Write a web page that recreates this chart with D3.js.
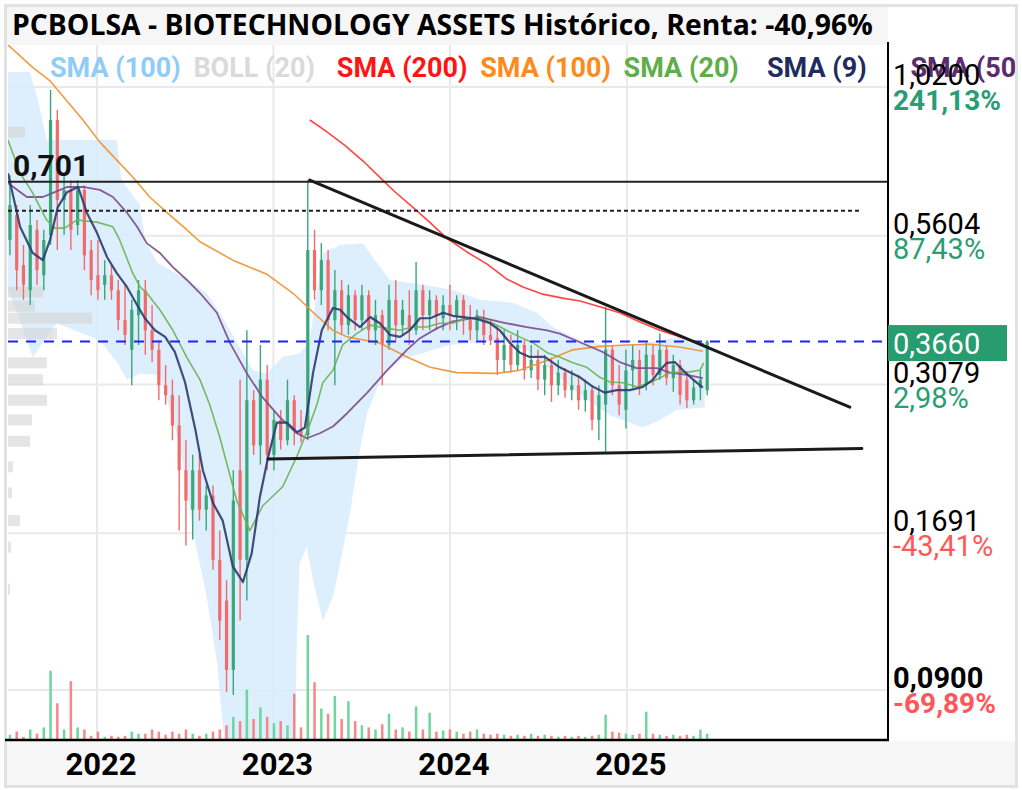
<!DOCTYPE html>
<html><head><meta charset="utf-8">
<script src="https://cdn.jsdelivr.net/npm/d3@7"></script>
<style>body{margin:0;background:#fff}svg{display:block}</style>
</head><body><svg id="chart" width="1022" height="790"></svg>
<script>
// ---------------- DATA ----------------
const titleText = "PCBOLSA - BIOTECHNOLOGY ASSETS Histórico, Renta: -40,96%";
const candleStart = "2021-07-05";
const candleStepDays = 14;
const open = [0.551,0.609,0.498,0.450,0.574,0.478,0.562,0.893,0.647,0.674,
0.585,0.674,0.529,0.478,0.460,0.478,0.450,0.399,0.354,0.407,
0.450,0.383,0.354,0.307,0.295,0.261,0.218,0.186,0.218,0.186,
0.197,0.152,0.129,0.0976,0.218,0.152,0.289,0.241,0.314,0.232,
0.267,0.246,0.289,0.256,0.251,0.529,0.450,0.508,0.399,0.450,
0.391,0.441,0.399,0.441,0.383,0.407,0.361,0.433,0.391,0.407,
0.383,0.450,0.407,0.433,0.402,0.424,0.407,0.433,0.399,0.383,
0.402,0.376,0.371,0.340,0.361,0.333,0.361,0.326,0.340,0.314,
0.333,0.307,0.323,0.301,0.307,0.289,0.301,0.267,0.284,0.354,
0.307,0.278,0.326,0.340,0.307,0.347,0.320,0.354,0.316,0.333,
0.314,0.289,0.304,0.301];
const high = [0.715,0.634,0.540,0.634,0.597,0.574,1.008,0.930,0.715,0.701,
0.701,0.687,0.551,0.551,0.508,0.498,0.469,0.460,0.433,0.469,
0.469,0.424,0.368,0.333,0.314,0.295,0.246,0.232,0.232,0.205,
0.205,0.171,0.140,0.218,0.314,0.383,0.301,0.361,0.333,0.278,
0.278,0.314,0.295,0.278,0.701,0.574,0.544,0.529,0.488,0.469,
0.460,0.450,0.460,0.450,0.433,0.416,0.460,0.469,0.433,0.450,
0.504,0.460,0.450,0.441,0.441,0.460,0.441,0.441,0.424,0.416,
0.416,0.399,0.391,0.383,0.376,0.383,0.368,0.361,0.354,0.347,
0.343,0.340,0.329,0.326,0.320,0.314,0.307,0.307,0.421,0.361,
0.333,0.354,0.361,0.354,0.364,0.361,0.378,0.361,0.347,0.340,
0.323,0.314,0.326,0.368];
const low = [0.518,0.450,0.433,0.424,0.460,0.450,0.540,0.529,0.562,0.529,
0.562,0.488,0.441,0.433,0.433,0.433,0.383,0.361,0.307,0.361,
0.347,0.337,0.289,0.284,0.246,0.171,0.161,0.165,0.178,0.171,
0.146,0.110,0.0893,0.0882,0.119,0.129,0.232,0.223,0.218,0.218,
0.237,0.241,0.241,0.244,0.246,0.433,0.424,0.383,0.307,0.376,
0.376,0.383,0.383,0.368,0.361,0.307,0.354,0.368,0.376,0.361,
0.376,0.383,0.383,0.383,0.383,0.383,0.383,0.376,0.368,0.368,
0.361,0.361,0.320,0.323,0.323,0.326,0.314,0.316,0.301,0.295,
0.287,0.295,0.292,0.289,0.278,0.276,0.256,0.246,0.235,0.295,
0.272,0.258,0.304,0.295,0.301,0.307,0.314,0.307,0.299,0.284,
0.280,0.284,0.289,0.295];
const close = [0.634,0.488,0.460,0.585,0.488,0.551,0.893,0.647,0.674,0.574,
0.674,0.518,0.469,0.450,0.478,0.450,0.399,0.376,0.416,0.450,
0.383,0.354,0.307,0.295,0.261,0.218,0.193,0.218,0.186,0.197,
0.152,0.119,0.0976,0.193,0.152,0.289,0.241,0.314,0.232,0.267,
0.246,0.289,0.256,0.251,0.529,0.450,0.508,0.399,0.450,0.391,
0.441,0.399,0.441,0.383,0.407,0.361,0.433,0.391,0.416,0.383,
0.450,0.407,0.433,0.407,0.424,0.407,0.433,0.399,0.383,0.407,
0.376,0.368,0.340,0.361,0.333,0.361,0.326,0.340,0.314,0.333,
0.307,0.323,0.301,0.307,0.289,0.301,0.267,0.295,0.354,0.307,
0.284,0.326,0.340,0.307,0.347,0.320,0.354,0.316,0.333,0.295,
0.289,0.304,0.314,0.366];
const volume = [5,8,3,10,6,12,66,35,10,56,
12,10,4,8,3,4,3,4,8,6,
6,10,8,5,8,6,10,6,4,6,
8,10,14,22,18,48,20,31,22,16,
18,14,44,12,100,55,30,25,42,20,
37,18,14,12,10,15,25,10,12,8,
32,10,26,8,9,10,8,6,8,10,
6,5,6,5,4,5,4,6,4,5,
4,3,4,3,4,3,4,5,24,8,
7,6,5,6,27,6,5,4,5,4,
5,4,10,6];

const sma9 = [["2021-07-01",0.721],["2021-07-26",0.581],["2021-08-21",0.523],["2021-09-11",0.508],["2021-09-26",0.551],["2021-10-12",0.629],["2021-10-31",0.668],["2021-11-23",0.682],["2021-12-11",0.615],["2022-01-01",0.567],["2022-01-22",0.514],["2022-02-11",0.482],["2022-03-04",0.456],["2022-03-25",0.424],["2022-04-10",0.402],["2022-05-01",0.383],["2022-05-22",0.373],["2022-06-11",0.351],["2022-07-02",0.311],["2022-07-23",0.258],["2022-08-08",0.218],["2022-08-29",0.191],["2022-09-18",0.178],["2022-10-09",0.148],["2022-10-30",0.139],["2022-11-17",0.156],["2022-12-04",0.196],["2022-12-21",0.230],["2023-01-08",0.264],["2023-01-29",0.264],["2023-02-19",0.254],["2023-03-07",0.259],["2023-03-24",0.323],["2023-04-11",0.383],["2023-05-04",0.419],["2023-05-19",0.416],["2023-06-02",0.404],["2023-06-29",0.388],["2023-07-20",0.404],["2023-08-09",0.394],["2023-08-30",0.376],["2023-09-20",0.373],["2023-10-10",0.383],["2023-10-31",0.402],["2023-11-21",0.402],["2023-12-18",0.411],["2024-01-07",0.406],["2024-01-28",0.404],["2024-02-26",0.401],["2024-03-24",0.394],["2024-04-13",0.383],["2024-05-04",0.364],["2024-05-25",0.350],["2024-06-14",0.344],["2024-07-15",0.344],["2024-08-15",0.330],["2024-09-26",0.317],["2024-10-23",0.305],["2024-11-16",0.298],["2024-12-11",0.301],["2025-01-07",0.301],["2025-02-03",0.305],["2025-02-24",0.314],["2025-03-10",0.326],["2025-03-25",0.336],["2025-04-10",0.337],["2025-04-27",0.326],["2025-05-18",0.314],["2025-06-07",0.304]];
const sma20 = [["2021-07-01",0.824],["2021-07-26",0.721],["2021-08-21",0.666],["2021-09-19",0.597],["2021-10-06",0.578],["2021-10-26",0.578],["2021-11-20",0.597],["2022-01-01",0.592],["2022-02-03",0.581],["2022-02-17",0.551],["2022-03-16",0.482],["2022-03-31",0.456],["2022-04-14",0.445],["2022-05-11",0.416],["2022-06-07",0.383],["2022-07-06",0.343],["2022-08-02",0.314],["2022-08-22",0.284],["2022-09-12",0.249],["2022-10-17",0.193],["2022-11-13",0.171],["2022-12-10",0.189],["2023-01-20",0.204],["2023-02-18",0.230],["2023-03-17",0.262],["2023-04-01",0.284],["2023-04-13",0.310],["2023-05-04",0.326],["2023-05-24",0.361],["2023-06-22",0.378],["2023-07-20",0.391],["2023-08-24",0.386],["2023-09-20",0.383],["2023-10-16",0.388],["2023-11-14",0.388],["2023-12-11",0.394],["2024-01-07",0.394],["2024-02-05",0.402],["2024-03-03",0.402],["2024-03-30",0.394],["2024-04-27",0.383],["2024-05-24",0.373],["2024-06-21",0.364],["2024-07-20",0.350],["2024-08-15",0.344],["2024-09-11",0.336],["2024-10-10",0.330],["2024-11-06",0.317],["2024-11-27",0.311],["2024-12-24",0.310],["2025-01-21",0.305],["2025-02-17",0.310],["2025-03-10",0.316],["2025-03-31",0.323],["2025-05-11",0.324],["2025-06-01",0.326],["2025-06-09",0.336]];
const sma50 = [["2021-07-01",0.693],["2021-08-09",0.655],["2021-09-11",0.655],["2021-10-02",0.666],["2021-10-31",0.682],["2021-12-03",0.682],["2022-01-07",0.674],["2022-02-03",0.655],["2022-03-04",0.615],["2022-03-25",0.581],["2022-04-14",0.544],["2022-05-11",0.523],["2022-06-07",0.494],["2022-07-06",0.469],["2022-08-02",0.445],["2022-09-06",0.411],["2022-10-03",0.364],["2022-11-07",0.322],["2022-12-10",0.292],["2023-01-14",0.270],["2023-02-18",0.253],["2023-03-11",0.248],["2023-04-07",0.253],["2023-05-04",0.260],["2023-06-02",0.274],["2023-07-14",0.298],["2023-08-24",0.326],["2023-10-04",0.354],["2023-10-31",0.371],["2023-12-05",0.386],["2024-01-07",0.397],["2024-03-03",0.404],["2024-04-27",0.394],["2024-06-08",0.388],["2024-07-20",0.383],["2024-08-15",0.378],["2024-09-26",0.365],["2024-11-12",0.351],["2024-12-17",0.337],["2025-01-21",0.329],["2025-03-04",0.329],["2025-03-31",0.323],["2025-05-05",0.320],["2025-06-07",0.316]];
const sma100 = [["2021-07-01",1.208],["2021-08-21",1.104],["2021-09-26",1.045],["2021-10-31",0.964],["2021-12-03",0.893],["2022-01-07",0.817],["2022-02-11",0.760],["2022-03-16",0.710],["2022-04-20",0.655],["2022-05-26",0.615],["2022-07-06",0.574],["2022-08-02",0.547],["2022-10-09",0.508],["2022-12-18",0.480],["2023-02-10",0.445],["2023-03-25",0.411],["2023-05-04",0.383],["2023-06-02",0.373],["2023-08-09",0.364],["2023-10-04",0.344],["2023-11-21",0.330],["2024-01-15",0.323],["2024-04-07",0.322],["2024-05-24",0.326],["2024-07-20",0.339],["2024-09-11",0.354],["2024-11-06",0.359],["2025-01-01",0.361],["2025-02-17",0.362],["2025-04-20",0.358],["2025-06-07",0.352]];
const sma200 = [["2023-03-17",0.893],["2023-04-16",0.858],["2023-05-28",0.807],["2023-07-09",0.752],["2023-08-15",0.701],["2023-09-09",0.669],["2023-10-16",0.629],["2023-11-20",0.592],["2023-12-25",0.555],["2024-02-05",0.525],["2024-03-18",0.500],["2024-04-27",0.471],["2024-05-31",0.456],["2024-07-11",0.443],["2024-08-21",0.436],["2024-09-26",0.431],["2024-11-06",0.421],["2024-12-17",0.411],["2025-01-28",0.396],["2025-03-10",0.383],["2025-04-20",0.373],["2025-06-09",0.362]];
const bollUpper = [["2021-07-01",1.083],["2021-08-15",1.083],["2021-09-01",0.968],["2021-09-19",0.824],["2021-10-10",0.824],["2022-02-11",0.824],["2022-02-21",0.701],["2022-03-31",0.634],["2022-04-10",0.551],["2022-05-05",0.504],["2022-07-06",0.469],["2022-08-16",0.445],["2022-09-12",0.411],["2022-10-23",0.358],["2022-11-19",0.326],["2022-12-18",0.322],["2023-01-20",0.344],["2023-02-24",0.349],["2023-03-17",0.368],["2023-04-13",0.523],["2023-05-19",0.540],["2023-07-05",0.544],["2023-08-03",0.502],["2023-08-30",0.469],["2023-10-16",0.463],["2023-12-05",0.456],["2024-01-07",0.450],["2024-03-03",0.433],["2024-05-10",0.428],["2024-06-29",0.411],["2024-08-01",0.388],["2024-09-26",0.368],["2024-12-03",0.358],["2025-02-11",0.364],["2025-04-20",0.373],["2025-06-11",0.364]];
const bollLower = [["2021-07-01",0.450],["2021-07-26",0.399],["2021-08-21",0.344],["2021-09-15",0.368],["2021-10-10",0.394],["2022-01-07",0.368],["2022-02-11",0.337],["2022-03-04",0.314],["2022-03-31",0.322],["2022-05-11",0.320],["2022-06-22",0.240],["2022-07-18",0.171],["2022-08-16",0.131],["2022-09-06",0.101],["2022-09-18",0.0783],["2022-09-28",0.067],["2023-02-14",0.067],["2023-02-18",0.107],["2023-02-24",0.150],["2023-03-11",0.160],["2023-03-24",0.140],["2023-04-13",0.119],["2023-05-04",0.131],["2023-05-19",0.150],["2023-06-08",0.183],["2023-06-29",0.237],["2023-07-14",0.275],["2023-08-15",0.320],["2023-09-20",0.340],["2024-01-01",0.361],["2024-04-13",0.368],["2024-06-14",0.351],["2024-08-15",0.316],["2024-10-17",0.287],["2024-11-27",0.272],["2025-02-03",0.259],["2025-03-10",0.267],["2025-04-14",0.278],["2025-06-11",0.281]];

const profileLevels = [0.851,0.447,0.422,0.402,0.378,0.336,0.314,0.289,0.267,0.245,0.221,0.199,0.178,0.160,0.135];
const profileVolumes = [18,36,28,85,50,40,36,40,25,23,6,5,13,4,3];

const resistanceLine = [["2023-03-17",0.701],["2026-04-07",0.281]];
const supportLine = [["2022-12-21",0.228],["2026-05-02",0.238]];
const maxLevel = 0.701, maxLevelLabel = "0,701";
const dottedLevel = 0.62;
const lastPrice = 0.366, lastPriceLabel = "0,3660";

const axisValues = [1.02,0.5604,0.3079,0.1691,0.09];
const axisLabels = ["1,0200","0,5604","0,3079","0,1691","0,0900"];
const axisPercents = ["241,13%","87,43%","2,98%","-43,41%","-69,89%"];
const yearTicks = ["2022","2023","2024","2025"];

const legendNames = ["SMA (100)","BOLL (20)","SMA (200)","SMA (100)","SMA (20)","SMA (9)","SMA (50)"];
const legendColors = ["#8fcdf7","#dadada","#ff1414","#ff8a1c","#5fae49","#1e2c5e","#5c2b70"];

// ---------------- CHART ----------------
const W = 1022, H = 790;
const P = {left: 8, right: 888, top: 45, bottom: 740};
const parse = d3.timeParse("%Y-%m-%d");
const svg = d3.select("#chart");

const x = d3.scaleTime().domain([parse("2021-07-01"), parse("2026-06-25")]).range([P.left, P.right]);
const y = d3.scaleLog().domain([0.09, 1.02]).range([690, 87]);
const volH = d3.scaleLinear().domain([0, 100]).range([0, 105]);
const profW = d3.scaleLinear().domain([0, 100]).range([0, 100]);

const candleDates = open.map((_, i) => d3.timeDay.offset(parse(candleStart), i * candleStepDays));
const candles = open.map((o, i) => ({date: candleDates[i], o, h: high[i], l: low[i], c: close[i], v: volume[i]}));

const defs = svg.append("defs");
defs.append("clipPath").attr("id","plotclip").append("rect")
  .attr("x",P.left).attr("y",P.top).attr("width",P.right-P.left).attr("height",P.bottom-P.top);
defs.append("clipPath").attr("id","frameclip").append("rect")
  .attr("x",7).attr("y",7).attr("width",1008).attr("height",778);

svg.append("rect").attr("width",W).attr("height",H).attr("fill","#fff");
svg.append("rect").attr("x",7).attr("y",741).attr("width",1008).attr("height",44).attr("fill","#f7f7f7");
svg.append("rect").attr("x",7).attr("y",7).attr("width",881).attr("height",38).attr("fill","#f6f6f6");
svg.append("rect").attr("x",5.5).attr("y",5.5).attr("width",1011).attr("height",781)
  .attr("fill","none").attr("stroke","#e2e2e2").attr("stroke-width",3);

const plot = svg.append("g").attr("clip-path","url(#plotclip)");

// grid
plot.selectAll(".hg").data(axisValues).join("line")
  .attr("x1",P.left).attr("x2",P.right).attr("y1",d=>y(d)).attr("y2",d=>y(d))
  .attr("stroke","#e9e9e9").attr("stroke-width",2);
plot.selectAll(".vg").data(yearTicks).join("line")
  .attr("x1",d=>x(parse(d+"-01-01"))).attr("x2",d=>x(parse(d+"-01-01")))
  .attr("y1",P.top).attr("y2",P.bottom).attr("stroke","#e9e9e9").attr("stroke-width",2);

// bollinger band
const ptLine = d3.line().x(d=>x(parse(d[0]))).y(d=>y(d[1]));
const bandPts = bollUpper.concat(bollLower.slice().reverse());
plot.append("path").attr("d", ptLine(bandPts) + "Z").attr("fill","#d7ebfb").attr("opacity",0.85);

// volume profile
plot.selectAll(".prof").data(profileLevels).join("rect")
  .attr("x",P.left-1).attr("y",d=>y(d)-5.5).attr("height",11)
  .attr("width",(d,i)=>profW(profileVolumes[i]))
  .attr("fill","#d4d4d4").attr("opacity",0.6);

// volume bars
plot.selectAll(".vol").data(candles).join("rect")
  .attr("x",d=>x(d.date)-1.25).attr("width",2.5)
  .attr("y",d=>P.bottom-volH(d.v)).attr("height",d=>volH(d.v))
  .attr("fill",d=>d.c>=d.o?"#5fd394":"#f57b7b").attr("opacity",0.9);

// candles
const cg = plot.append("g");
cg.selectAll(".wick").data(candles).join("line")
  .attr("x1",d=>x(d.date)).attr("x2",d=>x(d.date))
  .attr("y1",d=>y(d.h)).attr("y2",d=>y(d.l))
  .attr("stroke",d=>d.c>=d.o?"#3aa67a":"#f26a6a").attr("stroke-width",1.4);
cg.selectAll(".body").data(candles).join("rect")
  .attr("x",d=>x(d.date)-1.6).attr("width",3.2)
  .attr("y",d=>Math.min(y(d.o),y(d.c)))
  .attr("height",d=>Math.max(1.2,Math.abs(y(d.o)-y(d.c))))
  .attr("fill",d=>d.c>=d.o?"#3aa67a":"#f26a6a");

// moving averages
const lines = [
  {d: sma100, c: "#f0902c", w: 1.6},
  {d: sma200, c: "#ff3030", w: 1.6},
  {d: sma50, c: "#7b4a8c", w: 1.8},
  {d: sma20, c: "#6cb152", w: 1.6},
  {d: sma9, c: "#2d3b6e", w: 2.2}
];
lines.forEach(l => {
  plot.append("path").attr("d", ptLine(l.d)).attr("fill","none")
    .attr("stroke", l.c).attr("stroke-width", l.w).attr("stroke-linejoin","round").attr("opacity",0.9);
});

// horizontal levels
plot.append("line").attr("x1",P.left).attr("x2",P.right).attr("y1",y(maxLevel)+1.5).attr("y2",y(maxLevel)+1.5)
  .attr("stroke","#222").attr("stroke-width",2);
plot.append("line").attr("x1",P.left).attr("x2",860).attr("y1",y(dottedLevel)).attr("y2",y(dottedLevel))
  .attr("stroke","#222").attr("stroke-width",2).attr("stroke-dasharray","4,3");
plot.append("line").attr("x1",P.left).attr("x2",P.right).attr("y1",y(lastPrice)).attr("y2",y(lastPrice))
  .attr("stroke","#1a22ff").attr("stroke-width",2).attr("stroke-dasharray","10,8");

// trend lines
[resistanceLine, supportLine].forEach(t => {
  plot.append("path").attr("d", ptLine(t)).attr("stroke","#1a1a1a").attr("stroke-width",3)
    .attr("fill","none").attr("stroke-linecap","round");
});

// max label
svg.append("text").attr("x",13).attr("y",y(maxLevel)-4).text(maxLevelLabel)
  .attr("font-family","Roboto").attr("font-weight","bold").attr("font-size",30).attr("fill","#111");

// axes lines
svg.append("line").attr("x1",P.right).attr("x2",P.right).attr("y1",42).attr("y2",P.bottom+1)
  .attr("stroke","#000").attr("stroke-width",2);
svg.append("line").attr("x1",5).attr("x2",P.right+1).attr("y1",P.bottom).attr("y2",P.bottom)
  .attr("stroke","#000").attr("stroke-width",2.5);

// legend
const lg = svg.append("g").attr("clip-path","url(#frameclip)");
lg.selectAll("text").data(legendNames).join("text")
  .attr("x",(d,i)=>50+i*143.4).attr("y",77).text(d=>d)
  .attr("font-family","Roboto").attr("font-weight","bold").attr("font-size",27)
  .attr("fill",(d,i)=>legendColors[i]);

// right axis labels
const ax = svg.append("g");
axisValues.forEach((v,i) => {
  const gy = y(v);
  const last = i === axisValues.length-1;
  const boldPct = (i===0||last);
  ax.append("text").attr("x",893).attr("y",gy-2).text(axisLabels[i])
    .attr("font-family","Roboto").attr("font-size",29).attr("font-weight", last?"bold":"normal").attr("fill","#000");
  ax.append("text").attr("x",893).attr("y",gy+23).text(axisPercents[i])
    .attr("font-family","Roboto").attr("font-size",boldPct?28:29).attr("font-weight",boldPct?"bold":"normal")
    .attr("fill", axisPercents[i].startsWith("-")?"#ff5757":"#2a9d74");
});
// last price tag
const ly = y(lastPrice);
ax.append("rect").attr("x",P.right).attr("y",ly-16.5).attr("width",119).attr("height",36).attr("fill","#279c6f");
ax.append("text").attr("x",893).attr("y",ly+12).text(lastPriceLabel)
  .attr("font-family","Roboto").attr("font-size",29).attr("fill","#fff");

// year labels
svg.selectAll(".yr").data(yearTicks).join("text")
  .attr("x",d=>x(parse(d+"-01-01"))+4).attr("y",775).attr("text-anchor","middle").text(d=>d)
  .attr("font-family","Roboto").attr("font-weight","bold").attr("font-size",31).attr("fill","#000");

// title
const tt = svg.append("text").attr("x",12).attr("y",35).text(titleText)
  .attr("font-family","Open Sans").attr("font-weight","bold").attr("font-size",28).attr("fill","#000");
const tl = tt.node().getComputedTextLength();
tt.attr("font-size", 28 * 861 / tl);
</script>
</body></html>
